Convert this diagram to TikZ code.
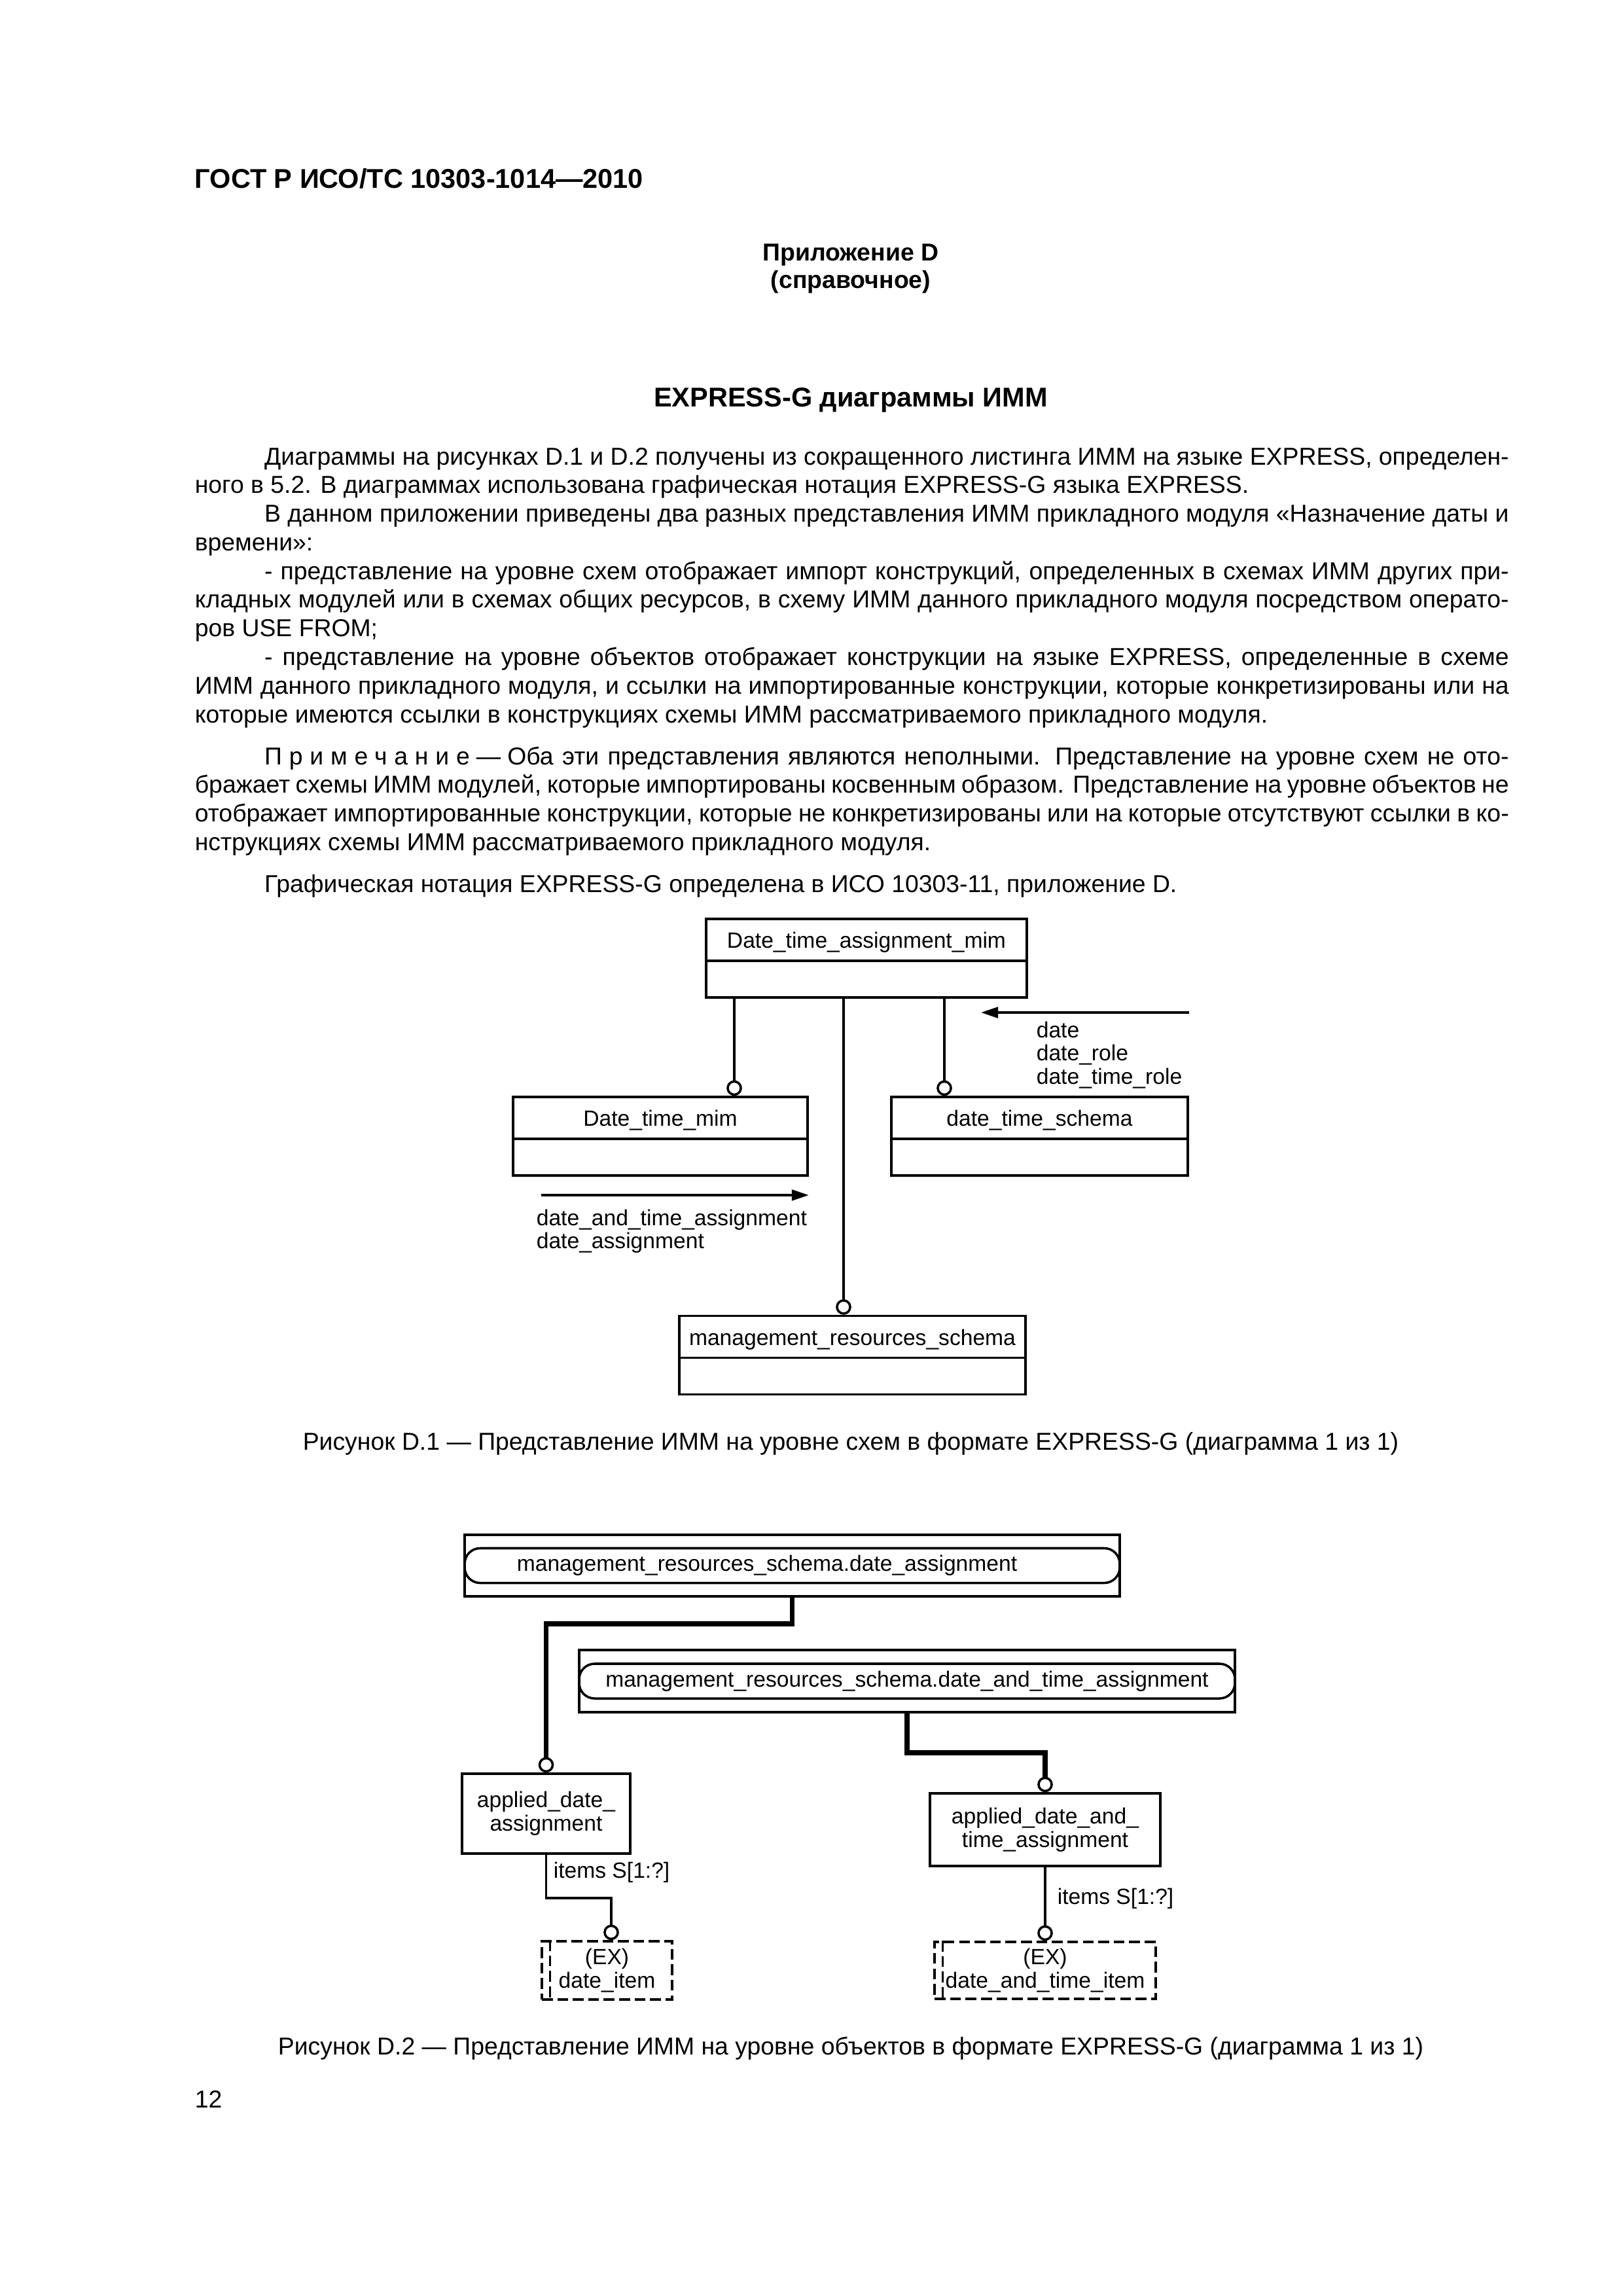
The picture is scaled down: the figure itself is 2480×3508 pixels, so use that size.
\documentclass[tikz,border=0pt]{standalone}
\usepackage{fontspec}
\setmainfont{Liberation Sans}
\usetikzlibrary{arrows.meta}

\newcommand{\bodyfont}{\fontsize{9pt}{10.55pt}\selectfont}
\newcommand{\boxfont}{\fontsize{8.1pt}{8.6pt}\selectfont}
\newcommand{\jline}[1]{\hbox to \hsize{#1}}
\newcommand{\lline}[1]{\hbox{#1}}

\begin{document}
\begin{tikzpicture}[x=0.0846667mm, y=-0.0846667mm,
  txt/.style={inner sep=0pt, font=\bodyfont},
  schemabox/.style={rectangle, draw, line width=0.3mm, inner sep=0pt,
              minimum height=10.16mm, text height=3.8mm, text depth=6.36mm, font=\boxfont},
  entbox/.style={rectangle, draw, line width=0.3mm, inner sep=0pt, align=center, font=\boxfont},
  selbox/.style={entbox, dash pattern=on 1.4mm off 0.6mm},
  frame/.style={rectangle, draw, line width=0.3mm, inner sep=0pt},
  pill/.style={frame, rounded corners=2mm, minimum height=4.49mm},
  lbl/.style={inner sep=0pt, font=\boxfont, align=left},
  link/.style={line width=0.3mm, -{Circle[open, length=2mm, line width=0.3mm]}},
  thicklink/.style={link, line width=0.62mm},
  refarrow/.style={line width=0.3mm, -{Triangle[length=2.2mm, width=1.4mm]}},
]
  \useasboundingbox (0,0) rectangle (2480,3508);

  % page text
  \node[txt, anchor=base west, font=\bfseries\fontsize{10pt}{12pt}\selectfont] (gost) at (297,287) {ГОСТ Р ИСО/ТС 10303-1014—2010};
  \node[txt, anchor=base, font=\bfseries\bodyfont] (annex) at (1300,398) {Приложение D};
  \node[txt, anchor=base, font=\bfseries\bodyfont] (annexkind) at (1300,440) {(справочное)};
  \node[txt, anchor=base, font=\bfseries\fontsize{10pt}{12pt}\selectfont] (title) at (1300,621) {EXPRESS-G диаграммы ИММ};

  \node[txt, anchor=base west] (intro) at (297,710) {\parbox[t]{170mm}{\bodyfont
    \jline{\kern9mm Диаграммы на рисунках D.1 и D.2 получены из сокращенного листинга ИММ на языке EXPRESS, определен-}
    \lline{ного в 5.2. В диаграммах использована графическая нотация EXPRESS-G языка EXPRESS.}
    \jline{\kern9mm В данном приложении приведены два разных представления ИММ прикладного модуля «Назначение даты и}
    \lline{времени»:}
    \jline{\kern9mm - представление на уровне схем отображает импорт конструкций, определенных в схемах ИММ других при-}
    \jline{кладных модулей или в схемах общих ресурсов, в схему ИММ данного прикладного модуля посредством операто-}
    \lline{ров USE FROM;}
    \jline{\kern9mm - представление на уровне объектов отображает конструкции на языке EXPRESS, определенные в схеме}
    \jline{ИММ данного прикладного модуля, и ссылки на импортированные конструкции, которые конкретизированы или на}
    \lline{которые имеются ссылки в конструкциях схемы ИММ рассматриваемого прикладного модуля.}}};
  \node[txt, anchor=base west] (note) at (297,1168) {\parbox[t]{170mm}{\bodyfont
    \jline{\kern9mm {\addfontfeatures{LetterSpace=29}Примечание}\kern0.85mm—\kern0.85mm Оба эти представления являются неполными. Представление на уровне схем не ото-}
    \jline{бражает схемы ИММ модулей, которые импортированы косвенным образом. Представление на уровне объектов не}
    \jline{отображает импортированные конструкции, которые не конкретизированы или на которые отсутствуют ссылки в ко-}
    \lline{нструкциях схемы ИММ рассматриваемого прикладного модуля.}}};
  \node[txt, anchor=base west] (notation) at (297,1363) {\parbox[t]{170mm}{\bodyfont
    \lline{\kern9mm Графическая нотация EXPRESS-G определена в ИСО 10303-11, приложение D.}}};

  % figure D.1
  \node[schemabox, minimum width=41.5mm] (dtam) at (1324,1464) {Date\_time\_assignment\_mim};
  \node[schemabox, minimum width=38.1mm] (dtm) at (1009,1736) {Date\_time\_mim};
  \node[schemabox, minimum width=38.35mm] (dts) at (1588.5,1736) {date\_time\_schema};
  \node[schemabox, minimum width=44.8mm] (mrs) at (1302.5,2070.5) {management\_resources\_schema};
  \foreach \b in {dtam, dtm, dts, mrs}
    \draw[line width=0.3mm] ([yshift=-5.55mm]\b.north west) -- ([yshift=-5.55mm]\b.north east);

  \draw[link] (1122,0 |- dtam.south) -- (1122,0 |- dtm.north);
  \draw[link] (1289,0 |- dtam.south) -- (1289,0 |- mrs.north);
  \draw[link] (1443,0 |- dtam.south) -- (1443,0 |- dts.north);

  \coordinate (inref) at (1499,1547);
  \coordinate (outref) at (827,1826);
  \draw[refarrow] (inref -| dts.east) -- (inref);
  \draw[refarrow] (outref) -- (outref -| dtm.east);
  \node[lbl, anchor=north west] (innames) at (1583,1560) {date\\date\_role\\date\_time\_role};
  \node[lbl, anchor=north west] (outnames) at (819,1847) {date\_and\_time\_assignment\\date\_assignment};

  \node[txt, anchor=base] (cap1) at (1300,2215) {Рисунок D.1 — Представление ИММ на уровне схем в формате EXPRESS-G (диаграмма 1 из 1)};

  % figure D.2
  \node[frame, minimum width=84.75mm, minimum height=7.96mm] (da) at (1210.5,2392) {};
  \node[pill, minimum width=84.75mm] (dapill) at (da.center) {};
  \node[lbl, anchor=west] (dalbl) at (789,2392) {management\_resources\_schema.date\_assignment};
  \node[frame, minimum width=84.85mm, minimum height=8.04mm] (dta) at (1386,2568.5) {};
  \node[pill, minimum width=84.85mm] (dtapill) at (dta.center) {};
  \node[lbl] (dtalbl) at (dta.center) {management\_resources\_schema.date\_and\_time\_assignment};

  \node[entbox, minimum width=21.76mm, minimum height=10.33mm] (ada) at (834.5,2771) {applied\_date\_\\assignment};
  \node[entbox, minimum width=29.8mm, minimum height=9.4mm] (adta) at (1597,2795.5) {applied\_date\_and\_\\time\_assignment};
  \node[selbox, minimum width=16.85mm, minimum height=7.54mm] (di) at (927.5,3010.5) {(EX)\\date\_item};
  \node[selbox, minimum width=28.6mm, minimum height=7.37mm] (dti) at (1597,3010.5) {(EX)\\date\_and\_time\_item};
  \foreach \s in {di, dti}
    \draw[line width=0.3mm, dash pattern=on 1.4mm off 0.6mm] ([xshift=1.2mm]\s.north west) -- ([xshift=1.2mm]\s.south west);

  \draw[thicklink] (da.south) -- (da.south |- 0,2481) -| (ada.north);
  \draw[thicklink] (dta.south) -- (dta.south |- 0,2678) -| (adta.north);
  \draw[link] (ada.south) -- (ada.south |- 0,2900) -| ([xshift=0.55mm]di.north);
  \draw[link] (adta.south) -- (dti.north);
  \node[lbl, anchor=west] (itemsa) at (845,2861) {items S[1:?]};
  \node[lbl, anchor=west] (itemsb) at (1615,2901) {items S[1:?]};

  \node[txt, anchor=base] (cap2) at (1300,3139) {Рисунок D.2 — Представление ИММ на уровне объектов в формате EXPRESS-G (диаграмма 1 из 1)};
  \node[txt, anchor=base west] (pageno) at (297,3220) {12};
\end{tikzpicture}
\end{document}
